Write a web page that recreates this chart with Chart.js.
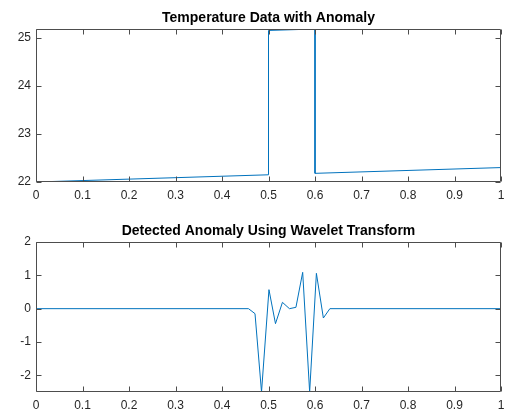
<!DOCTYPE html>
<html>
<head>
<meta charset="utf-8">
<script src="https://cdn.jsdelivr.net/npm/chart.js@4/dist/chart.umd.min.js"></script>
<style>
  html, body { margin: 0; padding: 0; background: #fff; }
  #fig { position: relative; width: 505px; height: 416px; }
  canvas { position: absolute; left: 0; }
</style>
</head>
<body>
<div id="fig">
  <canvas id="top" width="505" height="208" style="top:0"></canvas>
  <canvas id="bottom" width="505" height="208" style="top:208px"></canvas>
</div>
<script>
// top subplot: temperature with a +3 step between 0.5 and 0.6
const TEMP_T = [0, 0.5, 0.5, 0.6, 0.6, 1];
const TEMP_V = [22.0, 22.15, 25.15, 25.18, 22.18, 22.3];

// bottom subplot: wavelet detail coefficients
const WAV_T = [0, 0.457, 0.471, 0.485, 0.501, 0.515, 0.530, 0.545, 0.559, 0.5735, 0.5885, 0.603, 0.618, 0.632, 1];
const WAV_V = [0, 0, -0.15, -2.5, 0.57, -0.45, 0.19, 0.0, 0.04, 1.09, -2.5, 1.06, -0.28, 0, 0];

const X_TICKS = [0, 0.1, 0.2, 0.3, 0.4, 0.5, 0.6, 0.7, 0.8, 0.9, 1];
const TEMP_Y_TICKS = [22, 23, 24, 25];
const WAV_Y_TICKS = [-2, -1, 0, 1, 2];

const LINE = "#0072BD";
const AXIS = "#4d4d4d";
const TEXT = "#262626";
const FONT = "'Liberation Sans', Arial, Helvetica, sans-serif";

function fmt(v) {
  return String(Number(v.toFixed(2)));
}

const matlabAxes = {
  id: "matlabAxes",
  afterDraw(chart, args, opts) {
    const { ctx, chartArea: a, scales } = chart;
    const l = Math.round(a.left) + 0.5, r = Math.round(a.right) - 0.5;
    const t = Math.round(a.top) + 0.5, b = Math.round(a.bottom) - 0.5;
    const tl = 5;
    ctx.save();
    ctx.strokeStyle = AXIS;
    ctx.lineWidth = 1;
    ctx.beginPath();
    ctx.rect(l, t, r - l, b - t);
    scales.x.ticks.forEach(function (tk) {
      const px = Math.round(scales.x.getPixelForValue(tk.value)) + 0.5;
      ctx.moveTo(px, b); ctx.lineTo(px, b - tl);
      ctx.moveTo(px, t); ctx.lineTo(px, t + tl);
    });
    scales.y.ticks.forEach(function (tk) {
      const py = Math.round(scales.y.getPixelForValue(tk.value)) + 0.5;
      ctx.moveTo(l, py); ctx.lineTo(l + tl, py);
      ctx.moveTo(r, py); ctx.lineTo(r - tl, py);
    });
    ctx.stroke();
    // title centred over the axes
    ctx.fillStyle = "#000";
    ctx.font = "bold 14px " + FONT;
    ctx.textAlign = "center";
    ctx.textBaseline = "alphabetic";
    ctx.fillText(opts.text, (a.left + a.right) / 2, a.top + opts.dy);
    ctx.restore();
  },
};

function makeChart(id, xs, ys, yMin, yMax, yTicks, title, padTop, xAxisH, titleDy) {
  const pts = xs.map(function (x, i) { return { x: x, y: ys[i] }; });
  return new Chart(document.getElementById(id), {
    type: "line",
    data: {
      datasets: [{
        data: pts,
        borderColor: LINE,
        borderWidth: 1,
        pointRadius: 0,
        tension: 0,
        fill: false,
      }],
    },
    plugins: [matlabAxes],
    options: {
      responsive: false,
      animation: false,
      devicePixelRatio: 1,
      layout: { padding: { top: padTop, right: 4, left: 0, bottom: 0 } },
      plugins: {
        legend: { display: false },
        tooltip: { enabled: false },
        matlabAxes: { text: title, dy: titleDy },
      },
      scales: {
        x: {
          type: "linear",
          min: 0,
          max: 1,
          grid: { display: false, drawTicks: false },
          border: { display: false },
          ticks: {
            padding: 6,
            color: TEXT,
            font: { family: FONT, size: 12 },
            maxRotation: 0,
            autoSkip: false,
            callback: fmt,
          },
          afterBuildTicks: function (s) {
            s.ticks = X_TICKS.map(function (v) { return { value: v }; });
          },
          afterFit: function (s) {
            s.height = xAxisH;
            s.paddingLeft = 0;
            s.paddingRight = 0;
          },
        },
        y: {
          type: "linear",
          min: yMin,
          max: yMax,
          grid: { display: false, drawTicks: false },
          border: { display: false },
          ticks: {
            padding: 5,
            color: TEXT,
            font: { family: FONT, size: 12 },
            autoSkip: false,
            callback: fmt,
          },
          afterBuildTicks: function (s) {
            s.ticks = yTicks.map(function (v) { return { value: v }; });
          },
          afterFit: function (s) {
            s.width = 36;
            s.paddingTop = 0;
            s.paddingBottom = 0;
          },
        },
      },
    },
  });
}

makeChart("top", TEMP_T, TEMP_V, 22, 25.18, TEMP_Y_TICKS,
  "Temperature Data with Anomaly", 29, 26, -7);
makeChart("bottom", WAV_T, WAV_V, -2.5, 2, WAV_Y_TICKS,
  "Detected Anomaly Using Wavelet Transform", 34, 24, -7);
</script>
</body>
</html>
